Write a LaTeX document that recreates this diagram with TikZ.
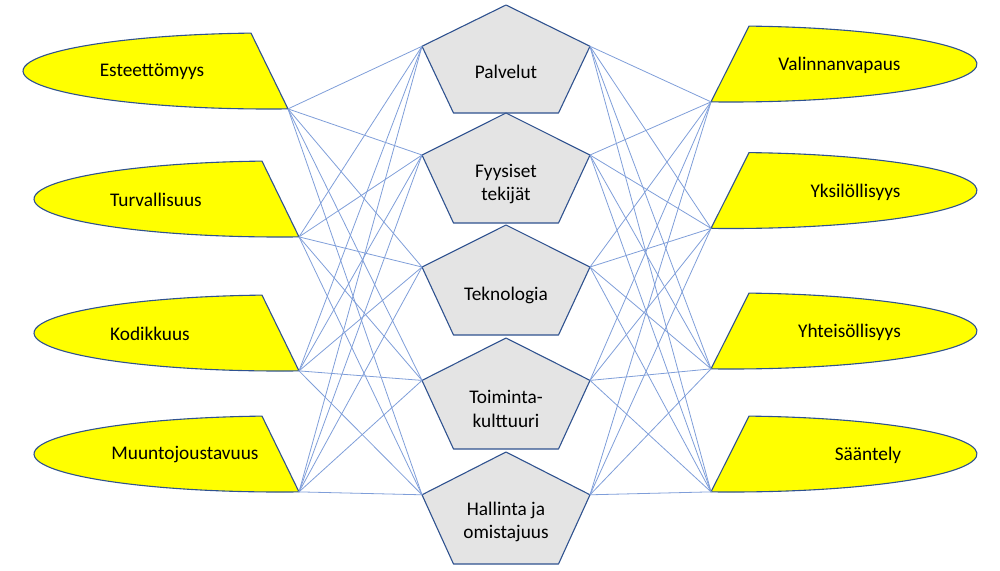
\documentclass[tikz,border=0pt]{standalone}
\usepackage{fontspec}
\setmainfont{Carlito}
\usetikzlibrary{calc}
\definecolor{outl}{HTML}{2F528F}
\definecolor{conn}{HTML}{7F9ED9}
\definecolor{pfill}{HTML}{E4E4E4}
\definecolor{yel}{HTML}{FFFF00}
\begin{document}
\begin{tikzpicture}[x=1pt,y=1pt,
  ovalshape/.style={draw=outl, fill=yel, line width=1.1pt, line join=round},
  pentshape/.style={draw=outl, fill=pfill, line width=1.1pt, line join=round},
  conline/.style={draw=conn, line width=0.8pt},
  lbl/.style={font=\fontsize{19.3}{23.5}\selectfont, align=center, text=black, inner sep=0pt}]
\useasboundingbox (0,0) rectangle (1000,-570);

% left shapes
\foreach \i/\cx/\cy in {1/269/71, 2/280/199, 3/280/333, 4/280/454} {
  \coordinate (lc\i) at (\cx,-\cy);
  \path[ovalshape] ($(lc\i)+(94.2:246pt and 38pt)$) -- ($(lc\i)+(-85.57:246pt and 38pt)$) coordinate (L\i)
     arc[start angle=-85.57, end angle=-265.8, x radius=246pt, y radius=38pt] -- cycle;
}
% right shapes
\foreach \i/\cx/\cy in {1/731/64, 2/731/190.5, 3/731/331, 4/731/454} {
  \coordinate (rc\i) at (\cx,-\cy);
  \path[ovalshape] ($(rc\i)+(-94.66:246pt and 38pt)$) coordinate (R\i) -- ($(rc\i)+(85.8:246pt and 38pt)$)
     arc[start angle=85.8, end angle=-94.66, x radius=246pt, y radius=38pt] -- cycle;
}
% pentagons
\foreach \i/\a/\h in {1/5/108, 2/113/110, 3/225/110, 4/338/111, 5/452/112} {
  \path[pentshape] (506,-\a) -- (590,{-\a-0.382*\h}) coordinate (Pr\i) -- (558.5,{-\a-\h})
     -- (453.5,{-\a-\h}) -- (422,{-\a-0.382*\h}) coordinate (Pl\i) -- cycle;
}
% connectors
\foreach \l in {1,...,4} {
  \foreach \p in {1,...,5} {
    \draw[conline] (L\l) -- (Pl\p);
    \draw[conline] (R\l) -- (Pr\p);
  }
}
% labels
\node[lbl] (t1) at (152,-72) {Esteettömyys};
\node[lbl] (t2) at (156,-200) {Turvallisuus};
\node[lbl] (t3) at (150,-334) {Kodikkuus};
\node[lbl] (t4) at (185,-455) {Muuntojoustavuus};
\node[lbl] (u1) at (839.5,-65) {Valinnanvapaus};
\node[lbl] (u2) at (855.5,-192) {Yksilöllisyys};
\node[lbl] (u3) at (849.5,-332) {Yhteisöllisyys};
\node[lbl] (u4) at (868,-455) {Sääntely};
\node[lbl] (p1) at (506,-72) {Palvelut};
\node[lbl] (p2) at (506,-184) {Fyysiset\\tekijät};
\node[lbl] (p3) at (506,-295) {Teknologia};
\node[lbl] (p4) at (506,-409) {Toiminta-\\kulttuuri};
\node[lbl] (p5) at (506,-522) {Hallinta ja\\omistajuus};
\end{tikzpicture}
\end{document}
